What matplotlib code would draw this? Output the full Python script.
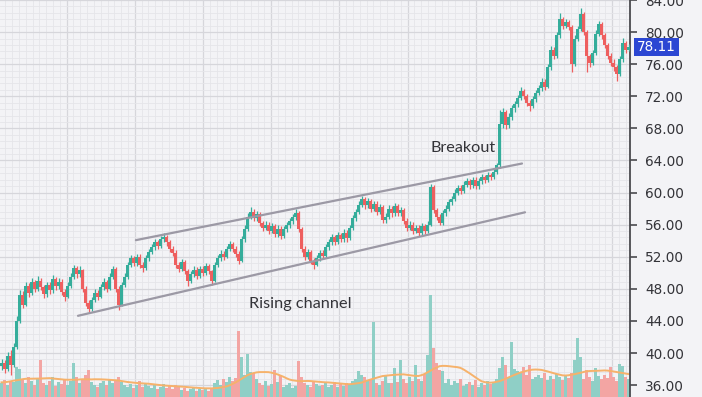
import numpy as np
import pandas as pd
import matplotlib
matplotlib.use("Agg")
import matplotlib.pyplot as plt
import matplotlib.transforms as mtransforms
from matplotlib.patches import Rectangle
from matplotlib.ticker import FixedLocator, MultipleLocator, FuncFormatter

# ---------------- data ----------------
first_open = 38.4
close = [
    38.8, 38.0, 39.6, 38.5, 40.8, 44.0, 47.2, 46.0, 48.3, 47.5,
    48.8, 48.0, 49.0, 48.2, 47.3, 48.5, 47.8, 49.2, 48.3, 48.9,
    47.6, 47.0, 48.4, 49.5, 50.6, 49.8, 50.3, 48.0, 46.2, 45.5,
    46.6, 47.5, 47.0, 48.2, 48.8, 48.0, 49.5, 50.5, 48.0, 46.0,
    48.5, 49.5, 51.0, 51.8, 51.2, 52.0, 51.0, 50.6, 51.8, 52.6,
    53.2, 53.8, 53.4, 54.2, 54.5, 53.8, 53.0, 52.5, 51.0, 50.5,
    51.3, 50.2, 49.0, 49.8, 50.4, 49.6, 50.5, 50.0, 50.8, 50.2,
    49.0, 51.0, 51.8, 52.4, 52.0, 53.0, 53.6, 53.0, 52.4, 51.5,
    54.2, 55.5, 57.0, 57.6, 56.8, 57.3, 56.2, 55.6, 56.0, 55.2,
    55.8, 54.8, 55.5, 54.6, 55.4, 55.9, 56.4, 56.9, 57.5, 55.5,
    53.0, 52.0, 52.6, 51.5, 51.0, 51.8, 52.5, 52.1, 53.2, 53.8,
    54.4, 53.9, 54.7, 54.2, 55.0, 54.3, 55.6, 56.8, 57.6, 58.5,
    59.2, 58.4, 58.9, 58.0, 58.6, 57.6, 58.2, 56.6, 57.0, 58.0,
    57.4, 58.3, 57.5, 57.8, 56.5, 55.6, 56.0, 55.2, 55.6, 54.9,
    55.8, 55.2, 56.0, 60.7, 57.8, 57.0, 56.2, 57.4, 58.0, 58.8,
    59.2, 60.0, 60.6, 60.2, 61.0, 61.4, 60.9, 61.6, 60.8, 61.4,
    61.9, 61.6, 62.2, 62.0, 62.6, 63.4, 68.5, 70.0, 68.4, 69.4,
    70.5, 71.0, 71.8, 72.6, 72.0, 71.2, 70.8, 71.6, 72.4, 73.0,
    73.8, 73.2, 75.6, 77.8, 77.0, 79.6, 81.6, 80.8, 81.2, 80.6,
    76.0, 79.2, 80.4, 82.2, 80.0, 77.0, 76.2, 77.4, 79.8, 81.0,
    79.6, 78.4, 77.0, 76.2, 75.6, 74.8, 76.6, 78.6, 77.8, 78.11,
]
high = [
    39.3, 39.1, 40.1, 40.4, 41.2, 44.6, 47.8, 47.7, 48.9, 48.7,
    49.3, 49.1, 49.6, 49.3, 48.5, 48.9, 48.8, 49.7, 49.5, 49.4,
    49.2, 48.0, 48.8, 50.0, 51.0, 50.9, 50.8, 50.5, 48.3, 46.6,
    47.0, 48.0, 47.9, 48.6, 49.3, 49.1, 50.0, 50.9, 50.7, 48.3,
    48.9, 50.0, 51.4, 52.2, 52.1, 52.4, 52.3, 51.3, 52.2, 53.0,
    53.6, 54.2, 54.1, 54.6, 54.9, 54.7, 54.1, 53.3, 52.8, 51.4,
    51.7, 51.6, 50.5, 50.2, 50.9, 50.7, 50.9, 50.8, 51.2, 51.1,
    50.4, 51.4, 52.2, 52.8, 52.7, 53.4, 54.0, 53.9, 53.3, 52.7,
    54.6, 55.9, 57.4, 58.2, 57.9, 57.7, 57.6, 56.5, 56.4, 56.3,
    56.2, 56.1, 55.9, 55.8, 55.8, 56.3, 56.8, 57.3, 57.9, 57.7,
    55.7, 53.3, 53.0, 52.9, 51.8, 52.2, 52.9, 52.8, 53.6, 54.2,
    54.8, 54.7, 55.1, 55.0, 55.4, 55.3, 56.0, 57.2, 58.0, 58.9,
    59.6, 59.5, 59.3, 59.2, 59.0, 58.9, 58.6, 58.5, 57.4, 58.4,
    58.3, 58.7, 58.6, 58.2, 58.1, 56.8, 56.4, 56.3, 56.0, 55.9,
    56.2, 56.1, 56.4, 61.1, 60.9, 58.1, 57.3, 57.8, 58.4, 59.2,
    59.6, 60.4, 61.0, 60.9, 61.4, 61.8, 61.7, 62.0, 61.9, 61.8,
    62.3, 62.2, 62.6, 62.5, 63.0, 63.7, 70.3, 70.6, 70.3, 69.9,
    70.9, 71.4, 72.2, 73.2, 72.9, 72.3, 71.5, 72.0, 72.8, 73.4,
    74.3, 74.1, 76.0, 78.3, 78.1, 80.0, 82.4, 81.9, 81.6, 81.5,
    80.9, 79.6, 80.8, 83.0, 82.5, 80.3, 77.3, 77.8, 80.2, 81.4,
    81.3, 79.9, 78.7, 77.4, 76.6, 75.9, 77.0, 79.3, 78.9, 78.5,
]
low = [
    37.9, 37.5, 37.8, 37.3, 38.2, 40.5, 43.7, 45.6, 45.8, 47.0,
    47.2, 47.6, 47.7, 47.8, 46.9, 47.0, 47.3, 47.5, 47.9, 48.0,
    47.2, 46.5, 46.8, 48.1, 49.2, 49.4, 49.5, 47.6, 45.8, 45.0,
    45.2, 46.3, 46.6, 46.8, 47.9, 47.6, 47.8, 49.2, 47.6, 45.4,
    45.8, 48.2, 49.2, 50.7, 50.8, 50.9, 50.6, 50.1, 50.4, 51.5,
    52.3, 52.9, 53.0, 53.1, 53.9, 53.4, 52.6, 52.1, 50.6, 50.1,
    50.2, 49.8, 48.3, 48.7, 49.5, 49.2, 49.3, 49.6, 49.7, 49.8,
    48.5, 48.8, 50.7, 51.5, 51.6, 51.8, 52.7, 52.6, 52.0, 51.1,
    51.3, 53.9, 55.2, 56.7, 56.4, 56.5, 55.8, 55.2, 55.3, 54.8,
    54.9, 54.4, 54.5, 54.2, 54.3, 55.1, 55.6, 56.1, 56.6, 55.1,
    52.6, 51.6, 51.7, 51.1, 50.5, 50.8, 51.5, 51.7, 51.9, 52.9,
    53.5, 53.5, 53.6, 53.8, 53.9, 53.9, 54.1, 55.3, 56.5, 57.3,
    58.2, 58.0, 58.1, 57.6, 57.7, 57.2, 57.3, 56.2, 56.2, 56.7,
    57.0, 57.1, 57.1, 57.1, 56.1, 55.2, 55.3, 54.8, 54.9, 54.6,
    54.7, 54.8, 54.9, 55.8, 57.4, 56.6, 55.9, 56.0, 57.1, 57.7,
    58.5, 58.9, 59.7, 59.8, 59.9, 60.7, 60.5, 60.6, 60.4, 60.5,
    61.1, 61.2, 61.3, 61.6, 61.7, 62.3, 63.1, 68.1, 67.9, 68.0,
    69.1, 70.1, 70.7, 71.5, 71.6, 70.8, 70.2, 70.5, 71.3, 72.1,
    72.7, 72.8, 73.0, 75.3, 76.6, 76.8, 79.3, 80.4, 80.5, 80.2,
    75.0, 75.8, 78.9, 80.1, 79.6, 75.0, 75.6, 75.9, 77.1, 79.5,
    79.2, 78.0, 76.6, 75.8, 75.2, 73.9, 74.5, 76.3, 77.4, 77.6,
]
volume = [  # volume in 10k units
    14, 17, 12, 16, 15, 30, 28, 18, 14, 20,
    16, 12, 18, 37, 14, 12, 16, 20, 11, 15,
    13, 18, 12, 16, 34, 20, 14, 18, 22, 27,
    15, 12, 10, 14, 16, 12, 18, 14, 16, 20,
    15, 12, 10, 13, 9, 12, 16, 10, 14, 11,
    9, 12, 8, 10, 13, 9, 11, 8, 12, 10,
    7, 9, 6, 8, 10, 6, 8, 7, 9, 6,
    8, 14, 17, 12, 18, 15, 20, 16, 19, 66,
    40, 22, 43, 25, 24, 18, 14, 12, 16, 11,
    13, 27, 15, 22, 10, 12, 14, 9, 11, 36,
    20, 14, 12, 10, 16, 13, 11, 12, 14, 10,
    12, 15, 10, 13, 11, 14, 12, 16, 18, 26,
    22, 20, 16, 18, 75, 14, 12, 16, 22, 14,
    14, 29, 15, 37, 18, 14, 20, 16, 32, 18,
    16, 23, 42, 102, 49, 34, 27, 26, 14, 18,
    12, 16, 14, 18, 11, 13, 15, 12, 17, 10,
    14, 12, 16, 13, 15, 18, 29, 40, 32, 20,
    55, 28, 26, 24, 30, 22, 32, 18, 20, 22,
    19, 24, 17, 21, 18, 23, 20, 17, 22, 19,
    24, 37, 59, 40, 18, 27, 20, 16, 29, 21,
    18, 22, 19, 30, 20, 16, 33, 31, 20, 18,
]
last_price = 78.11
price_ticks = [36, 40, 44, 48, 52, 56, 60, 64, 68, 72, 76, 80, 84]
lower_channel_x = [25.5, 174.5]
lower_channel_y = [44.64, 57.54]
upper_channel_x = [44.8, 173.5]
upper_channel_y = [54.07, 63.62]
annotations = [("Breakout", 153.8, 65.6), ("Rising channel", 99.7, 46.1)]

# ---------------- style ----------------
BG = "#f3f3f6"
UP = "#35ad9b"
DOWN = "#ee5f5f"
UP_VOL = "#8fcfc6"
DOWN_VOL = "#f3a5a3"
AXIS = "#4a4a4e"
TXT = "#333338"

n = len(close)
idx = np.arange(n)
c = np.array(close)
o = np.array([first_open] + close[:-1])
h = np.array(high)
l = np.array(low)
v = np.array(volume, dtype=float)
up = c >= o

fig = plt.figure(figsize=(7.02, 3.97), dpi=100)
fig.patch.set_facecolor(BG)
ax = fig.add_axes([0, 0, 630 / 702, 1])
ax.set_facecolor(BG)

ax.set_xlim(-0.5, n - 0.5)
ax.set_ylim(34.52, 84.0)

# grid
grid_start = 67.17 - 3 * 22.73
ax.xaxis.set_major_locator(FixedLocator(np.arange(grid_start, n, 22.73)))
ax.xaxis.set_minor_locator(FixedLocator(np.arange(grid_start, n, 2.273)))
ax.yaxis.set_major_locator(FixedLocator(price_ticks))
ax.yaxis.set_minor_locator(MultipleLocator(0.8))
ax.grid(which="major", color="#d6d6db", lw=0.9, zorder=0)
ax.grid(which="minor", color="#e5e5e9", lw=0.6, zorder=0)
ax.set_axisbelow(True)

# volume pane (bottom), scaled to axes fraction
vtrans = mtransforms.blended_transform_factory(ax.transData, ax.transAxes)
VOL_TOP = 397.0
vol_colors = [UP_VOL if u else DOWN_VOL for u in up]
ax.bar(idx, v / VOL_TOP, width=0.85, bottom=0, color=vol_colors,
       transform=vtrans, zorder=1, linewidth=0)
vol_ma = (pd.Series(v).rolling(14, min_periods=1).mean()
          .rolling(7, center=True, min_periods=1).mean())
ax.plot(idx, vol_ma.values / VOL_TOP, color="#f6b26b", lw=1.4,
        transform=vtrans, zorder=2)
ax.set_xlim(-0.5, n - 0.5)
ax.set_ylim(34.52, 84.0)

# candles
col = np.where(up, UP, DOWN)
ax.vlines(idx, l, h, colors=col, lw=0.9, zorder=3)
body_lo = np.minimum(o, c)
body_h = np.maximum(np.abs(c - o), 0.08)
ax.bar(idx, body_h, bottom=body_lo, width=0.68, color=col, linewidth=0, zorder=4)

# channel lines
ax.plot(lower_channel_x, lower_channel_y, color="#9c99a5", lw=1.6,
        solid_capstyle="round", zorder=5)
ax.plot(upper_channel_x, upper_channel_y, color="#9c99a5", lw=1.6,
        solid_capstyle="round", zorder=5)

for txt, x, y in annotations:
    ax.text(x, y, txt, fontsize=11.7, family=["Lato", "DejaVu Sans"], color=TXT,
            ha="center", va="center", zorder=6)

# axes styling
for s in ["left", "top", "bottom"]:
    ax.spines[s].set_visible(False)
ax.spines["right"].set_color(AXIS)
ax.spines["right"].set_linewidth(1.3)
ax.yaxis.tick_right()
ax.yaxis.set_major_formatter(FuncFormatter(lambda val, pos: f"{val:.2f}"))
ax.tick_params(axis="y", which="major", direction="out", length=5, width=1.2,
               color=AXIS, labelcolor=TXT, labelsize=9.8, pad=6)
ax.tick_params(axis="y", which="minor", length=0)
ax.tick_params(axis="x", which="both", length=0, labelbottom=False)

# last price label
ptrans = mtransforms.blended_transform_factory(ax.transAxes, ax.transData)
half = 9 / (397 / (84.0 - 34.52))
ax.add_patch(Rectangle((1 + 4 / 630, last_price - half), 45 / 630, 2 * half,
                       transform=ptrans, facecolor="#2c47d3", edgecolor="none",
                       clip_on=False, zorder=10))
ax.text(1 + 26.5 / 630, last_price, f"{last_price:.2f}", transform=ptrans,
        color="white", fontsize=9.8, ha="center", va="center",
        clip_on=False, zorder=11)

fig.savefig("out.png", dpi=100, facecolor=BG)
